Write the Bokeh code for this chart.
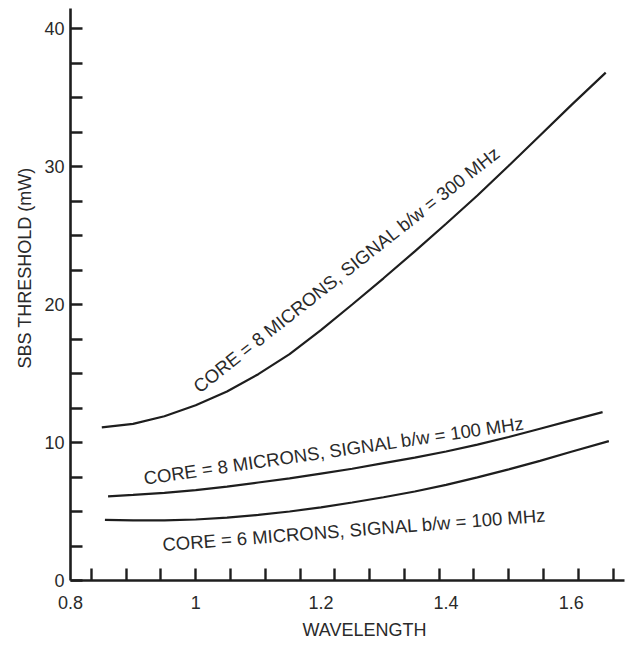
from bokeh.plotting import figure
from bokeh.models import Range1d, FixedTicker, Label, Title
from bokeh.embed import file_html
from bokeh.resources import INLINE

# ---- data ----
wl_8um_300 = [0.85, 0.90, 0.95, 1.00, 1.05, 1.10, 1.15, 1.20, 1.25, 1.30, 1.35, 1.40, 1.45, 1.50, 1.55, 1.60, 1.655]
sbs_8um_300 = [11.1, 11.35, 11.9, 12.7, 13.7, 14.95, 16.4, 18.15, 20.0, 21.9, 23.85, 25.85, 27.9, 30.05, 32.25, 34.45, 36.8]

wl_8um_100 = [0.86, 0.90, 0.95, 1.00, 1.05, 1.10, 1.15, 1.20, 1.25, 1.30, 1.35, 1.40, 1.45, 1.50, 1.55, 1.60, 1.65]
sbs_8um_100 = [6.1, 6.2, 6.35, 6.55, 6.8, 7.1, 7.4, 7.75, 8.1, 8.5, 8.9, 9.35, 9.85, 10.4, 11.0, 11.6, 12.2]

wl_6um_100 = [0.855, 0.90, 0.95, 1.00, 1.05, 1.10, 1.15, 1.20, 1.25, 1.30, 1.35, 1.40, 1.45, 1.50, 1.55, 1.60, 1.66]
sbs_6um_100 = [4.4, 4.35, 4.35, 4.42, 4.55, 4.75, 5.0, 5.3, 5.65, 6.03, 6.45, 6.93, 7.47, 8.05, 8.67, 9.33, 10.1]

curve_labels = [
    "CORE = 8 MICRONS, SIGNAL b/w = 300 MHz",
    "CORE = 8 MICRONS, SIGNAL b/w = 100 MHz",
    "CORE = 6 MICRONS, SIGNAL b/w = 100 MHz",
]

x_tick_values = [0.8, 1.0, 1.2, 1.4, 1.6]
x_tick_labels = ["0.8", "1", "1.2", "1.4", "1.6"]
x_minor_ticks = [0.8333, 0.8889, 0.9444, 1.0, 1.0556, 1.1111, 1.1667, 1.2222,
                 1.2778, 1.3333, 1.3889, 1.4444, 1.5, 1.5556, 1.6111, 1.6667]
y_tick_values = [0, 10, 20, 30, 40]
y_minor_ticks = [2.5, 5, 7.5, 12.5, 15, 17.5, 22.5, 25, 27.5, 32.5, 35, 37.5]

x_title = "WAVELENGTH"
y_title = "SBS THRESHOLD (mW)"

# ---- figure ----
INK = "#1e1e1e"
TXT = "#2a2a2a"
FONT = "Liberation Sans"

p = figure(width=626, height=648, output_backend="svg", toolbar_location=None,
           x_range=Range1d(0.8, 1.685), y_range=Range1d(0, 41.45),
           min_border_left=70, min_border_right=2, min_border_top=8,
           min_border_bottom=68)
p.outline_line_color = None
p.xgrid.visible = False
p.ygrid.visible = False
p.background_fill_color = "white"
p.border_fill_color = "white"

for xs, ys in [(wl_8um_300, sbs_8um_300), (wl_8um_100, sbs_8um_100), (wl_6um_100, sbs_6um_100)]:
    p.line(xs, ys, line_color=INK, line_width=2.2)

xa = p.xaxis[0]
xa.ticker = FixedTicker(ticks=x_tick_values, minor_ticks=x_minor_ticks)
xa.major_label_overrides = dict(zip(x_tick_values, x_tick_labels))
xa.major_tick_in = 0
xa.major_tick_out = 0
xa.minor_tick_in = 12
xa.minor_tick_out = 0
xa.major_label_standoff = 15

ya = p.yaxis[0]
ya.ticker = FixedTicker(ticks=y_tick_values, minor_ticks=y_minor_ticks)
ya.major_tick_in = 12
ya.major_tick_out = 0
ya.minor_tick_in = 12
ya.minor_tick_out = 0
ya.major_label_standoff = 6

for ax in (xa, ya):
    ax.axis_line_color = INK
    ax.axis_line_width = 2.6
    ax.major_tick_line_color = INK
    ax.major_tick_line_width = 2.4
    ax.minor_tick_line_color = INK
    ax.minor_tick_line_width = 2.4
    ax.major_label_text_font = FONT
    ax.major_label_text_font_size = "18px"
    ax.major_label_text_color = TXT

# curve annotations
label_pos = [(1.0, 13.9, 38.3), (0.917, 7.4, 8.3), (0.947, 2.6, 4.4)]
for txt, (lx, ly, ang) in zip(curve_labels, label_pos):
    p.add_layout(Label(x=lx, y=ly, text=txt, angle=ang, angle_units="deg",
                       text_font=FONT, text_font_size="18.5px", text_color=TXT,
                       text_align="left", text_baseline="alphabetic"))

# axis titles
p.add_layout(Title(text=x_title, align="left", offset=232, text_font=FONT,
                   text_font_size="18px", text_font_style="normal", text_color=TXT,
                   standoff=12), "below")
p.add_layout(Title(text=y_title, align="left", offset=212, text_font=FONT,
                   text_font_size="18px", text_font_style="normal", text_color=TXT,
                   standoff=14), "left")

open("out.html", "w").write(file_html(p, INLINE))
